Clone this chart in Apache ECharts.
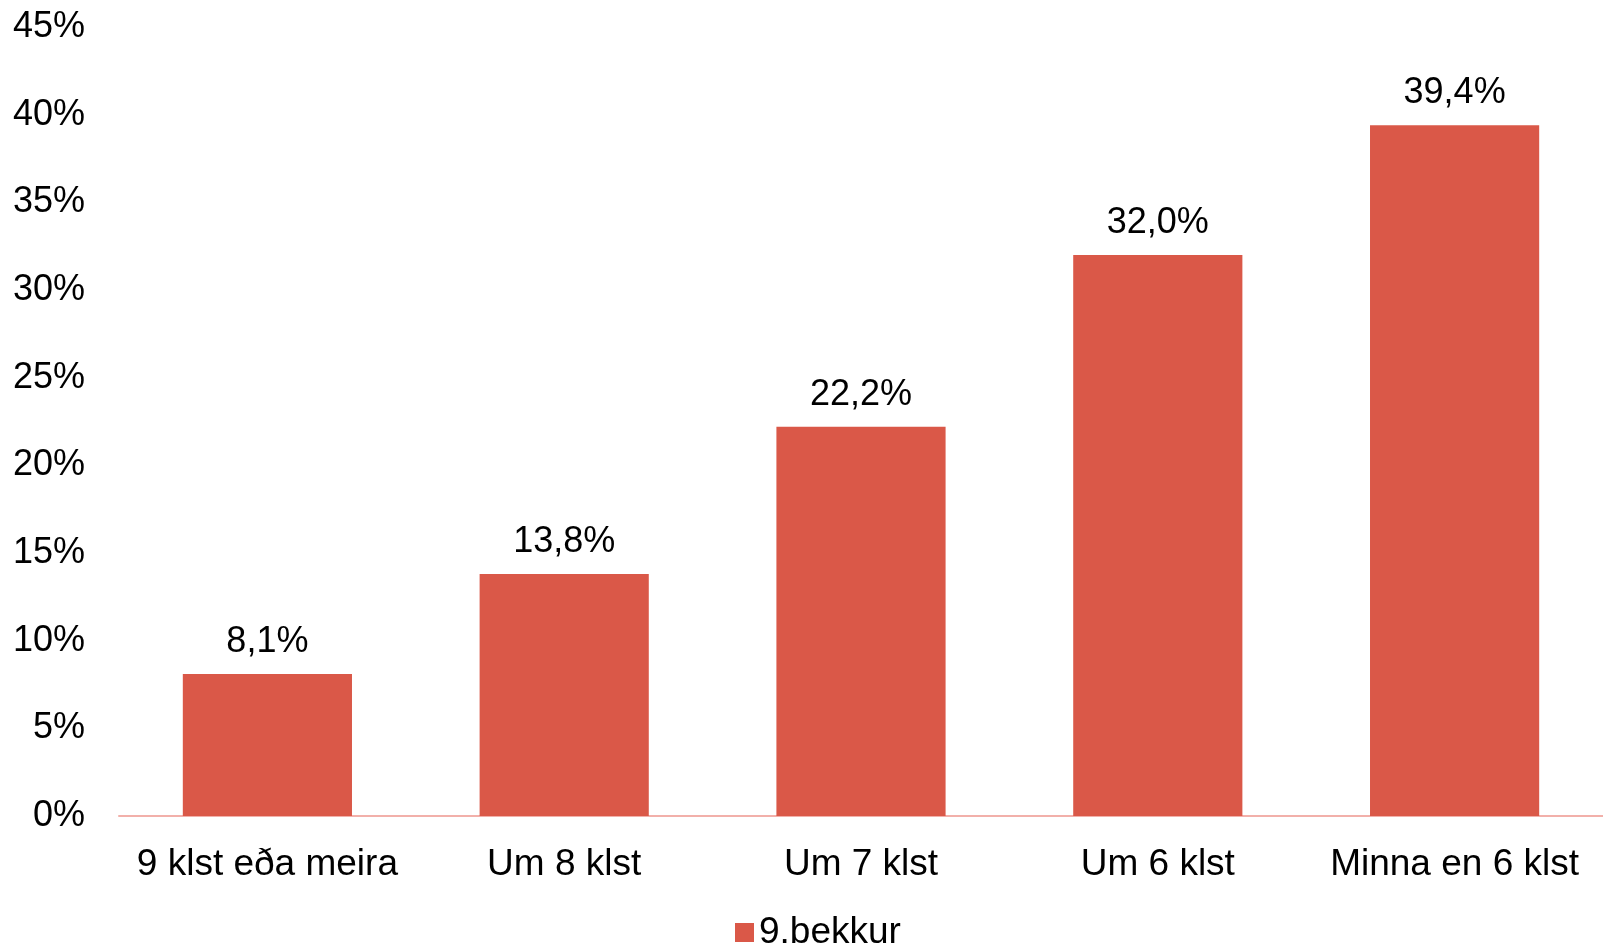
<!DOCTYPE html>
<html>
<head>
<meta charset="utf-8">
<script src="https://cdn.jsdelivr.net/npm/echarts@6/dist/echarts.min.js"></script>
<style>
  html, body { margin: 0; padding: 0; background: #fff; }
  #main { width: 1603px; height: 943px; }
</style>
</head>
<body>
<div id="main"></div>
<script>
// gögn
var categories = ['9 klst eða meira', 'Um 8 klst', 'Um 7 klst', 'Um 6 klst', 'Minna en 6 klst'];
var bekkur9 = [8.1, 13.8, 22.2, 32.0, 39.4];
var seriesName = '9.bekkur';

var font = '"Liberation Sans", Arial, sans-serif';

var chart = echarts.init(document.getElementById('main'));

var option = {
  animation: false,
  grid: {
    left: 119,
    right: 0,
    top: 27,
    bottom: 127
  },
  legend: {
    data: [seriesName],
    left: 730,
    top: 909,
    icon: 'rect',
    itemWidth: 19,
    itemHeight: 19,
    itemGap: 10,
    textStyle: { fontFamily: font, fontSize: 37, color: '#000' }
  },
  xAxis: {
    type: 'category',
    data: categories,
    axisLine: { lineStyle: { color: '#F2B0AA', width: 2 } },
    axisTick: { show: false },
    axisLabel: { interval: 0, fontFamily: font, fontSize: 37, color: '#000', margin: 30 }
  },
  yAxis: {
    type: 'value',
    min: 0,
    max: 45,
    interval: 5,
    axisLine: { show: false },
    axisTick: { show: false },
    splitLine: { show: false },
    axisLabel: {
      fontFamily: font, fontSize: 36, color: '#000', margin: 34,
      formatter: function (v) { return v + '%'; }
    }
  },
  series: [
    {
      name: seriesName,
      type: 'bar',
      data: bekkur9,
      barCategoryGap: '43%',
      itemStyle: { color: '#DA5848' },
      label: {
        show: true,
        position: 'top',
        distance: 14,
        fontFamily: font,
        fontSize: 36,
        color: '#000',
        formatter: function (p) { return p.value.toFixed(1).replace('.', ',') + '%'; }
      }
    }
  ]
};

chart.setOption(option);
</script>
</body>
</html>
